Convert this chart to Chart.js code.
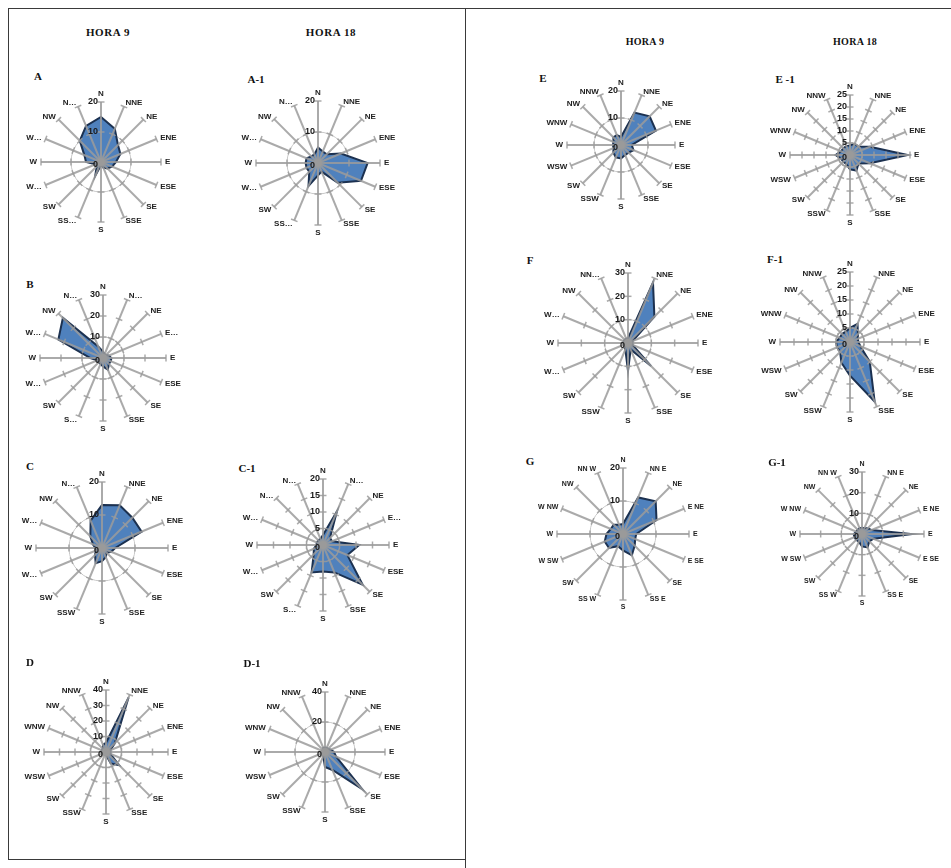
<!DOCTYPE html>
<html>
<head>
<meta charset="utf-8">
<script src="https://cdn.jsdelivr.net/npm/chart.js@4.4.0/dist/chart.umd.min.js"></script>
<style>
  html, body { margin: 0; padding: 0; background: #fff; }
  #page { position: relative; width: 951px; height: 868px; overflow: hidden; background: #fff; }
  .rule { position: absolute; background: #3a3a3a; }
  .hdr { position: absolute; transform: translate(-50%, -50%); font: bold 11px "Liberation Serif", serif; color: #111; white-space: nowrap; letter-spacing: 0.6px; }
  .hdr.small { font-size: 10px; letter-spacing: 0.3px; }
  .tag { position: absolute; transform: translate(-50%, -50%); font: bold 11px "Liberation Serif", serif; color: #111; white-space: nowrap; }
  canvas.rose { position: absolute; }
</style>
</head>
<body>
<div id="page"></div>
<script>
// ---- wind directions (clockwise from north) ----
const directions = ['N','NNE','NE','ENE','E','ESE','SE','SSE','S','SSW','SW','WSW','W','WNW','NW','NNW'];

// ---- labels printed around each rose ----
const labelsA  = ['N','NNE','NE','ENE','E','ESE','SE','SSE','S','SS…','SW','W…','W','W…','NW','N…'];
const labelsA1 = ['N','NNE','NE','ENE','E','ESE','SE','SSE','S','SS…','SW','W…','W','W…','NW','N…'];
const labelsB  = ['N','N…','NE','E…','E','ESE','SE','SSE','S','S…','SW','W…','W','W…','NW','N…'];
const labelsC  = ['N','NNE','NE','ENE','E','ESE','SE','SSE','S','SSW','SW','W…','W','W…','NW','N…'];
const labelsC1 = ['N','N…','NE','E…','E','ESE','SE','SSE','S','S…','SW','W…','W','W…','N…','N…'];
const labelsD  = directions;
const labelsD1 = directions;
const labelsE  = directions;
const labelsE1 = directions;
const labelsF  = ['N','NNE','NE','ENE','E','ESE','SE','SSE','S','SSW','SW','W…','W','W…','NW','NN…'];
const labelsF1 = directions;
const labelsG  = ['N','NN E','NE','E NE','E','E SE','SE','SS E','S','SS W','SW','W SW','W','W NW','NW','NN W'];
const labelsG1 = labelsG;

// ---- frequencies (%) per direction ----
const valuesA  = [15, 12, 8, 7, 5, 4, 3, 2, 1, 5, 2, 2, 5, 6, 10, 13];
const valuesA1 = [5, 4, 4, 8, 16, 15, 9, 3, 4, 8, 4, 4, 4, 4, 3, 3];
const valuesB  = [3, 2, 2, 3, 4, 4, 4, 6, 4, 3, 3, 3, 6, 23, 27, 6];
const valuesC  = [13, 14, 13, 13, 4, 3, 2, 3, 4, 5, 3, 2, 2, 3, 5, 9];
const valuesC1 = [3, 11, 3, 3, 11, 8, 17, 9, 8, 9, 4, 3, 2, 2, 2, 2];
const valuesD  = [6, 38, 8, 3, 3, 3, 12, 8, 2, 2, 2, 2, 3, 3, 3, 5];
const valuesD1 = [3, 3, 3, 4, 6, 8, 35, 13, 10, 3, 2, 2, 2, 2, 2, 3];
const valuesE  = [3, 13, 15, 14, 4, 5, 4, 4, 5, 5, 4, 3, 3, 3, 4, 4];
const valuesE1 = [4, 5, 5, 9, 24, 9, 5, 7, 6, 4, 4, 4, 6, 4, 4, 4];
const valuesF  = [2, 28, 16, 2, 2, 2, 14, 3, 12, 3, 2, 2, 2, 2, 2, 2];
const valuesF1 = [5, 7, 4, 3, 3, 4, 10, 23, 12, 8, 5, 5, 5, 4, 4, 4];
const valuesG  = [3, 12, 14, 11, 4, 4, 5, 7, 5, 4, 6, 6, 5, 4, 4, 3];
const valuesG1 = [3, 3, 4, 5, 24, 6, 5, 7, 6, 4, 4, 4, 4, 3, 3, 3];

// ---- radial tick values ----
const ticksA  = [0, 10, 20];
const ticksA1 = [0, 10, 20];
const ticksB  = [0, 10, 20, 30];
const ticksC  = [0, 10, 20];
const ticksC1 = [0, 5, 10, 15, 20];
const ticksD  = [0, 10, 20, 30, 40];
const ticksD1 = [0, 20, 40];
const ticksE  = [0, 10, 20];
const ticksE1 = [0, 5, 10, 15, 20, 25];
const ticksF  = [0, 10, 20, 30];
const ticksF1 = [0, 5, 10, 15, 20, 25];
const ticksG  = [0, 10, 20];
const ticksG1 = [0, 10, 20, 30];

// ---- page layout ----
const page = document.getElementById('page');
function rule(x, y, w, h) {
  const d = document.createElement('div');
  d.className = 'rule';
  Object.assign(d.style, { left: x + 'px', top: y + 'px', width: w + 'px', height: h + 'px' });
  page.appendChild(d);
}
function text(cls, str, x, y) {
  const d = document.createElement('div');
  d.className = cls;
  d.textContent = str;
  d.style.left = x + 'px';
  d.style.top = y + 'px';
  page.appendChild(d);
}
rule(8, 8, 943, 1);
rule(8, 8, 1, 852);
rule(8, 859, 457, 1);
rule(465, 8, 1, 860);

text('hdr', 'HORA 9', 108, 32);
text('hdr', 'HORA 18', 331, 32);
text('hdr small', 'HORA 9', 645, 41);
text('hdr small', 'HORA 18', 855, 41);

// spokes, tick marks and all text of a rose are painted over the filled area
const roseDecor = {
  id: 'roseDecor',
  afterDatasetsDraw(chart, args, o) {
    const s = chart.scales.r;
    const ctx = chart.ctx;
    const n = chart.data.labels.length;
    const R = s.drawingArea;
    const cx = s.xCenter, cy = s.yCenter;
    ctx.save();
    ctx.strokeStyle = 'rgba(155,155,155,0.85)';
    ctx.lineWidth = 2;
    for (let i = 0; i < n; i++) {
      const p = s.getPointPosition(i, R);
      ctx.beginPath();
      ctx.moveTo(cx, cy);
      ctx.lineTo(p.x, p.y);
      ctx.stroke();
    }
    ctx.lineWidth = 1.5;
    s.ticks.forEach(t => {
      if (t.value <= 0) return;
      const d = s.getDistanceFromCenterForValue(t.value);
      for (let i = 0; i < n; i++) {
        const p = s.getPointPosition(i, d);
        const ux = -Math.sin(p.angle), uy = Math.cos(p.angle);
        ctx.beginPath();
        ctx.moveTo(p.x + ux * 3.5, p.y + uy * 3.5);
        ctx.lineTo(p.x - ux * 3.5, p.y - uy * 3.5);
        ctx.stroke();
      }
    });
    ctx.fillStyle = '#9a9a9a';
    ctx.beginPath();
    ctx.arc(cx, cy, 4, 0, Math.PI * 2);
    ctx.fill();

    // radial tick labels, left of the north spoke
    ctx.fillStyle = '#1a1a1a';
    ctx.font = 'bold 9px "Liberation Sans", Arial, sans-serif';
    ctx.textAlign = 'right';
    ctx.textBaseline = 'middle';
    s.ticks.forEach(t => {
      const d = s.getDistanceFromCenterForValue(t.value);
      ctx.fillText(String(t.value), cx - 3, cy - d + (t.value === 0 ? 3 : 0));
    });

    // direction labels
    ctx.font = o.font;
    ctx.fillStyle = '#222';
    for (let i = 0; i < n; i++) {
      const p = s.getPointPosition(i, R + 4);
      const dx = p.x - cx, dy = p.y - cy;
      ctx.textAlign = Math.abs(dx) < 1 ? 'center' : (dx > 0 ? 'left' : 'right');
      ctx.textBaseline = Math.abs(dx) < 1 ? (dy < 0 ? 'bottom' : 'top') : 'middle';
      ctx.fillText(chart.data.labels[i], p.x, p.y);
    }
    ctx.restore();
  }
};

const PAD = 32;
function rose(tag, tagX, tagY, cx, cy, R, labels, values, ticks, font) {
  text('tag', tag, tagX, tagY);
  const size = 2 * (R + PAD);
  const cv = document.createElement('canvas');
  cv.className = 'rose';
  cv.width = size; cv.height = size;
  cv.style.width = size + 'px'; cv.style.height = size + 'px';
  cv.style.left = (cx - size / 2) + 'px';
  cv.style.top = (cy - size / 2) + 'px';
  page.appendChild(cv);
  new Chart(cv, {
    type: 'radar',
    data: {
      labels: labels,
      datasets: [{
        data: values,
        fill: true,
        backgroundColor: '#4F81BD',
        borderColor: '#1C3150',
        borderWidth: 2,
        pointRadius: 0,
        tension: 0
      }]
    },
    options: {
      responsive: false,
      animation: false,
      devicePixelRatio: 1,
      layout: { padding: PAD },
      plugins: {
        legend: { display: false },
        tooltip: { enabled: false },
        roseDecor: { font: font || 'bold 8px "Liberation Sans", Arial, sans-serif' }
      },
      scales: {
        r: {
          min: 0,
          max: ticks[ticks.length - 1],
          ticks: { display: false, stepSize: ticks[1] - ticks[0] },
          pointLabels: { display: false },
          angleLines: { display: false },
          grid: {
            circular: true,
            lineWidth: 1,
            color: ctx => ctx.index === 1 ? '#c9c9c9' : 'rgba(0,0,0,0)'
          }
        }
      }
    },
    plugins: [roseDecor]
  });
}

const gFont = 'bold 7px "Liberation Sans", Arial, sans-serif';
rose('A',   38, 76,  101, 162, 60, labelsA,  valuesA,  ticksA);
rose('A-1', 256, 79, 318, 163, 62, labelsA1, valuesA1, ticksA1);
rose('B',   30, 284, 103, 358, 63, labelsB,  valuesB,  ticksB);
rose('C',   30, 466, 102, 548, 66, labelsC,  valuesC,  ticksC);
rose('C-1', 247, 468, 323, 545, 66, labelsC1, valuesC1, ticksC1);
rose('D',   30, 662, 106, 752, 62, labelsD,  valuesD,  ticksD);
rose('D-1', 252, 663, 325, 752, 60, labelsD1, valuesD1, ticksD1);
rose('E',   543, 78, 621, 145, 54, labelsE,  valuesE,  ticksE);
rose('E -1', 785, 79, 850, 155, 60, labelsE1, valuesE1, ticksE1);
rose('F',   530, 260, 628, 343, 70, labelsF,  valuesF,  ticksF);
rose('F-1', 775, 259, 850, 342, 70, labelsF1, valuesF1, ticksF1);
rose('G',   530, 461, 623, 534, 66, labelsG,  valuesG,  ticksG, gFont);
rose('G-1', 777, 462, 862, 534, 62, labelsG1, valuesG1, ticksG1, gFont);
</script>
</body>
</html>
